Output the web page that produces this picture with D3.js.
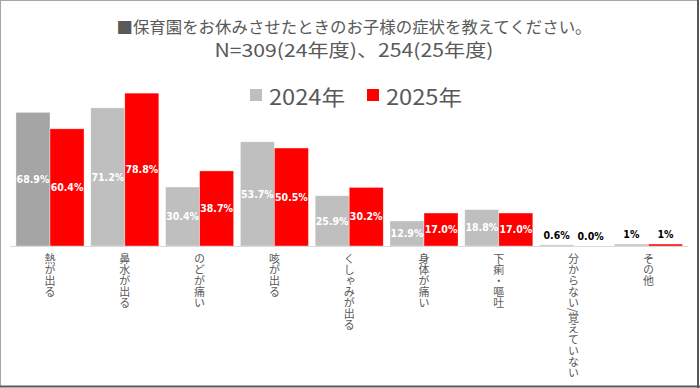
<!DOCTYPE html>
<html>
<head>
<meta charset="utf-8">
<script src="https://cdn.jsdelivr.net/npm/d3@7"></script>
<style>
  body { margin: 0; background: #fff; }
  svg { display: block; }
</style>
</head>
<body>
<div id="chart"></div>
<script>
const categories = ['熱が出る', '鼻水が出る', 'のどが痛い', '咳が出る', 'くしゃみが出る', '身体が痛い', '下痢・嘔吐', '分からない/覚えていない', 'その他'];
const values2024 = [68.9, 71.2, 30.4, 53.7, 25.9, 12.9, 18.8, 0.6, 1];
const values2025 = [60.4, 78.8, 38.7, 50.5, 30.2, 17.0, 17.0, 0.0, 1];
const labels2024 = ['68.9%', '71.2%', '30.4%', '53.7%', '25.9%', '12.9%', '18.8%', '0.6%', '1%'];
const labels2025 = ['60.4%', '78.8%', '38.7%', '50.5%', '30.2%', '17.0%', '17.0%', '0.0%', '1%'];
const seriesNames = ['2024年', '2025年'];
const titleLines = ['■保育園をお休みさせたときのお子様の症状を教えてください。', 'N=309(24年度)、254(25年度)'];

const width = 700, height = 388;
const baseY = 246;
const colors = ['#bfbfbf', '#ff0000'];

const svg = d3.select('#chart').append('svg')
  .attr('width', width)
  .attr('height', height);

// frame
svg.append('line').attr('x1', 0.5).attr('y1', 0).attr('x2', 0.5).attr('y2', 386).attr('stroke', '#a6a6a6');
svg.append('line').attr('x1', 0).attr('y1', 0.5).attr('x2', 698).attr('y2', 0.5).attr('stroke', '#a6a6a6');
svg.append('line').attr('x1', 698).attr('y1', 0).attr('x2', 698).attr('y2', 388).attr('stroke', '#595959').attr('stroke-width', 2);
svg.append('line').attr('x1', 0).attr('y1', 386.5).attr('x2', 700).attr('y2', 386.5).attr('stroke', '#595959').attr('stroke-width', 2);

// title
const titleLen = [475, 279];
svg.selectAll('.title')
  .data(titleLines)
  .join('text')
  .attr('class', 'title')
  .attr('x', 354)
  .attr('y', (d, i) => 33 + i * 24)
  .attr('text-anchor', 'middle')
  .attr('textLength', (d, i) => titleLen[i])
  .attr('lengthAdjust', 'spacingAndGlyphs')
  .style('font-family', '"Noto Sans CJK JP", sans-serif')
  .style('font-size', (d, i) => i === 0 ? '16.4px' : '18px')
  .attr('fill', '#595959')
  .text(d => d);

// legend
const legend = svg.append('g');
const legendX = [250, 367];
seriesNames.forEach((name, i) => {
  legend.append('rect')
    .attr('x', legendX[i]).attr('y', 89)
    .attr('width', 12).attr('height', 12)
    .attr('fill', colors[i]);
  legend.append('text')
    .attr('x', legendX[i] + 19).attr('y', 105)
    .attr('textLength', 76)
    .attr('lengthAdjust', 'spacingAndGlyphs')
    .style('font-family', '"Noto Sans CJK JP", sans-serif')
    .style('font-size', '21px')
    .attr('fill', '#595959')
    .text(name);
});

// scales
const x0 = d3.scaleBand()
  .domain(categories)
  .range([12.6, 685.8])
  .paddingInner(0.09)
  .paddingOuter(0.045);

const x1 = d3.scaleBand()
  .domain([0, 1])
  .range([0, x0.bandwidth()]);

const y = d3.scaleLinear()
  .domain([0, 90])
  .range([baseY, baseY - 90 * 1.94]);

const series = [values2024, values2025];
const labelSets = [labels2024, labels2025];

const bars = [];
categories.forEach((c, ci) => {
  series.forEach((vals, si) => {
    bars.push({ cat: c, ci: ci, si: si, value: vals[ci], label: labelSets[si][ci] });
  });
});

const chart = svg.append('g');

chart.selectAll('rect.bar')
  .data(bars.filter(d => d.value > 0))
  .join('rect')
  .attr('class', 'bar')
  .attr('x', d => x0(d.cat) + x1(d.si))
  .attr('y', d => y(d.value))
  .attr('width', x1.bandwidth())
  .attr('height', d => baseY - y(d.value))
  .attr('fill', d => (d.si === 0 && d.ci === 0) ? '#a5a5a5' : colors[d.si])
  .attr('stroke', '#ffffff')
  .attr('stroke-opacity', 0.6)
  .attr('stroke-width', 0.6);

// axis
const axis = chart.append('g')
  .attr('transform', 'translate(0,' + baseY + ')')
  .call(d3.axisBottom(x0).tickSize(0).tickPadding(0));
axis.select('.domain').attr('stroke', '#d9d9d9').attr('d', 'M10,0.5H688');
axis.selectAll('.tick text')
  .attr('y', 7)
  .attr('dy', null)
  .attr('text-anchor', 'start')
  .style('writing-mode', 'vertical-rl')
  .style('font-family', '"Noto Sans CJK JP", sans-serif')
  .style('font-size', '11px')
  .attr('fill', '#595959');

// value labels
chart.selectAll('text.val')
  .data(bars)
  .join('text')
  .attr('class', 'val')
  .attr('x', d => x0(d.cat) + x1(d.si) + x1.bandwidth() / 2)
  .attr('y', d => d.value < 5 ? y(d.value) - 10 : (y(d.value) + baseY) / 2)
  .attr('dy', '0.35em')
  .attr('text-anchor', 'middle')
  .style('font-family', '"DejaVu Sans Condensed", "DejaVu Sans", sans-serif')
  .style('font-weight', 'bold')
  .style('font-size', '10.5px')
  .attr('fill', d => d.value < 5 ? '#000000' : '#ffffff')
  .text(d => d.label);
</script>
</body>
</html>
